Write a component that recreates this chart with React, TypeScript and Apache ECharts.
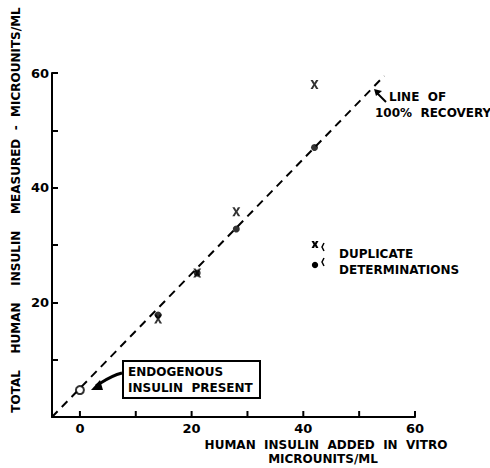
import React, { useEffect, useRef } from "react";
import * as echarts from "echarts";

const xAdded = [14, 21, 28, 42];
const crossValues = [17.1, 25.1, 35.8, 58.0];
const dotValues = [17.8, 25.1, 32.8, 47.0];
const endogenousX = [0];
const endogenousY = [4.7];
const recoveryLineX = [-5, 54.5];
const recoveryLineY = [0, 59.5];
const xTicks = [0, 10, 20, 30, 40, 50, 60];
const xTickLabels = [0, 20, 40, 60];
const yTickLabels = [20, 40, 60];

const FONT = "DejaVu Sans";
const INK = "#000";
const CROSS = "path://M0,0 L3,0 L5,3.2 L7,0 L10,0 L6.5,5 L10,10 L7,10 L5,6.8 L3,10 L0,10 L3.5,5 Z";

export default function App() {
  const ref = useRef<HTMLDivElement>(null);
  useEffect(() => {
    const chart = echarts.init(ref.current!, null, { renderer: "svg" });
    const txt = { fontFamily: FONT, fontWeight: "bold", fontSize: 12, fill: INK };
    const staticGraphics: any[] = [
      {
        type: "text",
        x: 16,
        y: 210,
        rotation: Math.PI / 2,
        style: { ...txt, text: "TOTAL    HUMAN    INSULIN    MEASURED  -  MICROUNITS/ML", align: "center", verticalAlign: "middle" },
      },
      { type: "text", x: 326, y: 445, style: { ...txt, text: "HUMAN  INSULIN  ADDED  IN  VITRO", align: "center", verticalAlign: "middle" } },
      { type: "text", x: 323, y: 459, style: { ...txt, text: "MICROUNITS/ML", align: "center", verticalAlign: "middle" } },
      { type: "text", x: 389, y: 97, style: { ...txt, text: "LINE  OF", align: "left", verticalAlign: "middle" } },
      { type: "text", x: 375, y: 113, style: { ...txt, text: "100%  RECOVERY", align: "left", verticalAlign: "middle" } },
      { type: "line", shape: { x1: 386, y1: 102, x2: 377, y2: 93 }, style: { stroke: INK, lineWidth: 2 } },
      { type: "polygon", shape: { points: [[374, 89], [382, 91], [376, 96]] }, style: { fill: INK } },
      { type: "rect", shape: { x: 123, y: 361, width: 137, height: 37 }, style: { fill: "#fff", stroke: INK, lineWidth: 2 } },
      { type: "text", x: 128, y: 372, style: { ...txt, text: "ENDOGENOUS", align: "left", verticalAlign: "middle" } },
      { type: "text", x: 128, y: 388, style: { ...txt, text: "INSULIN  PRESENT", align: "left", verticalAlign: "middle" } },
      { type: "bezierCurve", shape: { x1: 122, y1: 373, cpx1: 110, cpy1: 376, cpx2: 104, cpy2: 381, x2: 96, y2: 386 }, style: { stroke: INK, lineWidth: 3, fill: "none" } },
      { type: "polygon", shape: { points: [[91, 390], [100, 380], [103, 390]] }, style: { fill: INK } },
      { type: "polygon", shape: { points: [[311.5, 241], [314, 241], [315, 243], [316, 241], [318.5, 241], [316.5, 244.5], [318.5, 248], [316, 248], [315, 246], [314, 248], [311.5, 248], [313.5, 244.5]] }, style: { fill: INK } },
      { type: "circle", shape: { cx: 315, cy: 265, r: 3.2 }, style: { fill: INK } },
      { type: "polyline", shape: { points: [[324, 243], [322, 247], [324, 251]] }, style: { stroke: INK, lineWidth: 1.5, fill: "none" } },
      { type: "polyline", shape: { points: [[324, 258], [322, 262], [324, 266]] }, style: { stroke: INK, lineWidth: 1.5, fill: "none" } },
      { type: "text", x: 339, y: 254, style: { ...txt, text: "DUPLICATE", align: "left", verticalAlign: "middle" } },
      { type: "text", x: 339, y: 270, style: { ...txt, text: "DETERMINATIONS", align: "left", verticalAlign: "middle" } },
    ];
    chart.setOption({
      animation: false,
      backgroundColor: "#fff",
      grid: { left: 52, top: 73, right: 75, bottom: 51 },
      xAxis: {
        type: "value",
        min: -5,
        max: 60,
        axisLine: { onZero: false, lineStyle: { color: INK, width: 2 } },
        axisTick: { show: false },
        axisLabel: { customValues: xTickLabels, margin: 5, color: INK, fontFamily: FONT, fontWeight: "bold", fontSize: 13 },
        splitLine: { show: false },
      },
      yAxis: {
        type: "value",
        min: 0,
        max: 60,
        interval: 10,
        axisLine: { show: true, onZero: false, lineStyle: { color: INK, width: 2 } },
        axisTick: { show: true, inside: true, length: 6, lineStyle: { color: INK, width: 2 } },
        axisLabel: {
          margin: 3,
          color: INK,
          fontFamily: FONT,
          fontWeight: "bold",
          fontSize: 13,
          formatter: (v: number) => (yTickLabels.includes(v) ? String(v) : ""),
        },
        splitLine: { show: false },
      },
      series: [
        {
          type: "line",
          data: recoveryLineX.map((x, i) => [x, recoveryLineY[i]]),
          symbol: "none",
          lineStyle: { color: INK, width: 2, type: [8, 6] },
          z: 1,
        },
        {
          type: "scatter",
          data: xAdded.map((x, i) => [x, crossValues[i]]),
          symbol: CROSS,
          symbolSize: [8, 9],
          itemStyle: { color: INK },
          z: 3,
        },
        {
          type: "scatter",
          data: xAdded.map((x, i) => [x, dotValues[i]]),
          symbol: "circle",
          symbolSize: 7,
          itemStyle: { color: INK },
          z: 3,
        },
        {
          type: "scatter",
          data: endogenousX.map((x, i) => [x, endogenousY[i]]),
          symbol: "circle",
          symbolSize: 8,
          itemStyle: { color: "#fff", borderColor: INK, borderWidth: 2 },
          z: 4,
        },
      ],
      graphic: staticGraphics,
    });
    // x-axis ticks placed through the axis scale
    const tickGraphics = xTicks.map((v) => {
      const p = chart.convertToPixel({ xAxisIndex: 0, yAxisIndex: 0 }, [v, 0]) as number[];
      return {
        type: "line",
        z: 100,
        shape: { x1: p[0], y1: p[1], x2: p[0], y2: p[1] - 6 },
        style: { stroke: INK, lineWidth: 2 },
      };
    });
    chart.setOption({ graphic: [...staticGraphics, ...tickGraphics] });
    return () => chart.dispose();
  }, []);
  return <div ref={ref} style={{ width: 490, height: 468, position: "absolute", left: 0, top: 0 }} />;
}
